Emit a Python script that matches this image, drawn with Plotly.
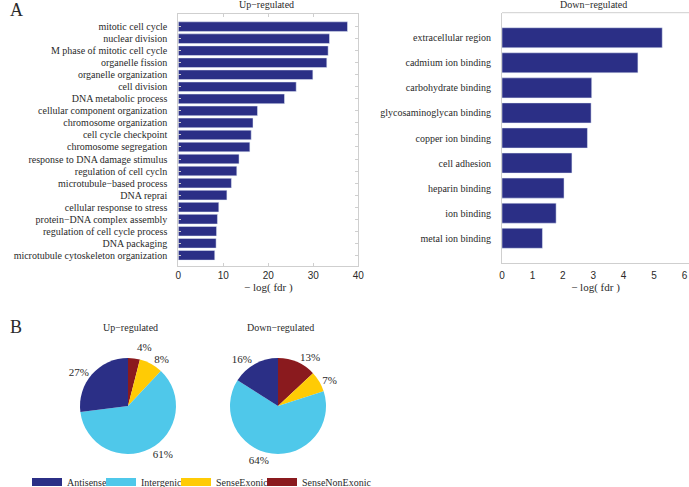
import plotly.graph_objects as go

W, H = 689, 487

# ---- data ----
up_terms = [
    "mitotic cell cycle", "nuclear division", "M phase of mitotic cell cycle",
    "organelle fission", "organelle organization", "cell division",
    "DNA metabolic process", "cellular component organization",
    "chromosome organization", "cell cycle checkpoint", "chromosome segregation",
    "response to DNA damage stimulus", "regulation of cell cycln",
    "microtubule\u2212based process", "DNA reprai", "cellular response to stress",
    "protein\u2212DNA complex assembly", "regulation of cell cycle process",
    "DNA packaging", "microtubule cytoskeleton organization",
]
up_vals = [37.6, 33.6, 33.3, 33.0, 29.9, 26.2, 23.6, 17.6, 16.6, 16.2,
           15.9, 13.5, 13.0, 11.8, 10.8, 9.0, 8.7, 8.5, 8.4, 8.1]

down_terms = [
    "extracellular region", "cadmium ion binding", "carbohydrate binding",
    "glycosaminoglycan binding", "copper ion binding", "cell adhesion",
    "heparin binding", "ion binding", "metal ion binding",
]
down_vals = [5.27, 4.47, 2.95, 2.93, 2.81, 2.30, 2.04, 1.78, 1.33]

pie_labels = ["Antisense", "Intergenic", "SenseExonic", "SenseNonExonic"]
pie_up = [27, 61, 8, 4]
pie_down = [16, 64, 7, 13]

navy = "#2B2F86"
pie_colors = [navy, "#4FC8EA", "#FFCB05", "#8A1A1E"]
grid = "#CFCFCF"
txt = "#2a2a2a"
serif = "Liberation Serif, Times New Roman, serif"
sans = "Liberation Sans, Arial, sans-serif"


def px(x0, x1):
    return [x0 / W, x1 / W]


def py(y_top, y_bot):
    return [1 - y_bot / H, 1 - y_top / H]


fig = go.Figure()

fig.add_trace(go.Bar(x=up_vals, y=up_terms, orientation="h", marker_color=navy,
                     width=0.8, xaxis="x", yaxis="y", showlegend=False))
fig.add_trace(go.Bar(x=down_vals, y=down_terms, orientation="h", marker_color=navy,
                     width=0.8, xaxis="x2", yaxis="y2", showlegend=False))

# slices run clockwise from 12 o'clock in reverse order
for vals, dom in [(pie_up, px(80, 176)), (pie_down, px(230, 326))]:
    fig.add_trace(go.Pie(values=vals[::-1], labels=pie_labels[::-1], sort=False,
                         direction="clockwise", rotation=0,
                         marker=dict(colors=pie_colors[::-1]), textposition="outside",
                         texttemplate="%{percent:.0%}", showlegend=False,
                         textfont=dict(family=serif, size=11, color=txt),
                         domain=dict(x=dom, y=py(358, 454))))

# legend entries as wide line swatches, one small legend each
leg_x = [27, 101, 176, 262]
leg_font = dict(family=serif, size=10, color=txt)
legends = {}
for i, (lab, col) in enumerate(zip(pie_labels, pie_colors)):
    name = "legend" if i == 0 else f"legend{i + 1}"
    fig.add_trace(go.Scatter(x=[None], y=[None], mode="lines", name=lab,
                             line=dict(color=col, width=8), legend=name,
                             xaxis="x3", yaxis="y3"))
    legends[name] = dict(orientation="h", x=leg_x[i] / W, y=1 - 482 / H,
                         xanchor="left", yanchor="middle", font=leg_font,
                         bgcolor="rgba(0,0,0,0)", itemwidth=30)

tick_font = dict(family=sans, size=10, color=txt)
lab_font = dict(family=serif, size=10, color=txt)
ttl_font = dict(family=serif, size=11, color=txt)

fig.update_layout(
    width=W, height=H, margin=dict(l=0, r=0, t=0, b=0, autoexpand=False),
    paper_bgcolor="white", plot_bgcolor="white",
    font=dict(family=serif, color=txt),
    xaxis=dict(domain=px(178.3, 358.3), range=[0, 40], tickvals=[0, 10, 20, 30, 40],
               showline=True, linecolor=grid, linewidth=1, mirror="ticks",
               ticks="inside", ticklen=3, tickcolor=grid, showgrid=False,
               zeroline=False, tickfont=tick_font, ticklabelstandoff=0,
               title=dict(text="\u2212 log( fdr )", font=ttl_font, standoff=0)),
    yaxis=dict(domain=py(14, 266), range=[19.89, -1.05], type="category",
               tickmode="array", tickvals=up_terms,
               showline=True, linecolor=grid, linewidth=1, mirror="ticks",
               ticks="inside", ticklen=3, tickcolor=grid, showgrid=False,
               tickfont=lab_font, ticklabelstandoff=8),
    xaxis2=dict(domain=px(502, 689), range=[0, 6.15], tickvals=[0, 1, 2, 3, 4, 5, 6],
                anchor="y2", showline=True, linecolor=grid, linewidth=1,
                ticks="", showgrid=False, zeroline=False, tickfont=tick_font,
                ticklabelstandoff=3,
                title=dict(text="\u2212 log( fdr )", font=ttl_font, standoff=0)),
    yaxis2=dict(domain=py(12.7, 263.3), range=[9, -1], type="category",
                tickmode="array", tickvals=down_terms,
                anchor="x2", showline=True, linecolor=grid, linewidth=1,
                ticks="", showgrid=False, tickfont=lab_font, ticklabelstandoff=8),
    xaxis3=dict(visible=False, domain=[0, 0.01]),
    yaxis3=dict(visible=False, domain=[0, 0.01], anchor="x3"),
    **legends,
)

# top border line of the down chart
fig.add_shape(type="line", xref="x2 domain", yref="y2 domain", x0=0, x1=1, y0=1, y1=1,
              line=dict(color=grid, width=1))

ann = [
    ("A", 8, 10, 18), ("B", 8, 327, 18),
    ("Up\u2212regulated", 266, 5, 10), ("Down\u2212regulated", 593, 5, 10),
    ("Up\u2212regulated", 130, 327, 10), ("Down\u2212regulated", 280, 327, 10),
]
for t, ax, ay, sz in ann:
    fig.add_annotation(text=t, x=ax / W, y=1 - ay / H, xref="paper", yref="paper",
                       showarrow=False, xanchor="left" if sz == 18 else "center",
                       yanchor="middle", font=dict(family=serif, size=sz, color=txt))

js = ("document.body.style.margin='0';"
      "var s=document.createElement('style');"
      "s.textContent='path.textline{display:none !important}';"
      "document.head.appendChild(s);")
fig.write_html("out.html", config={"displayModeBar": False}, post_script=js)
